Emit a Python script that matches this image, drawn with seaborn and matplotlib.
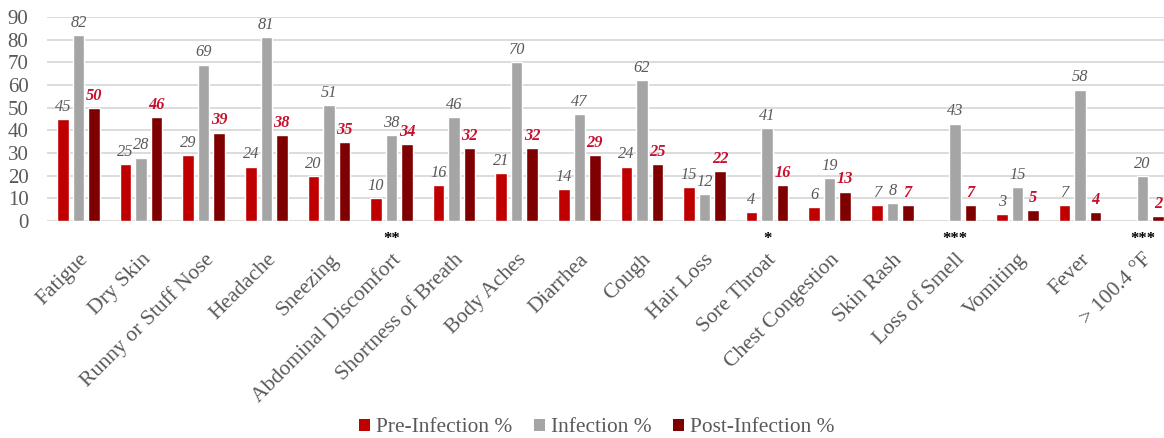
import numpy as np
import pandas as pd
import matplotlib
matplotlib.use("Agg")
import matplotlib.pyplot as plt
import seaborn as sns
from matplotlib.patches import Patch

categories = ["Fatigue", "Dry Skin", "Runny or Stuff Nose", "Headache", "Sneezing",
              "Abdominal Discomfort", "Shortness of Breath", "Body Aches", "Diarrhea",
              "Cough", "Hair Loss", "Sore Throat", "Chest Congestion", "Skin Rash",
              "Loss of Smell", "Vomiting", "Fever", "> 100.4 °F"]
pre_infection = [45, 25, 29, 24, 20, 10, 16, 21, 14, 24, 15, 4, 6, 7, np.nan, 3, 7, np.nan]
infection = [82, 28, 69, 81, 51, 38, 46, 70, 47, 62, 12, 41, 19, 8, 43, 15, 58, 20]
post_infection = [50, 46, 39, 38, 35, 34, 32, 32, 29, 25, 22, 16, 13, 7, 7, 5, 4, 2]
series_names = ["Pre-Infection %", "Infection %", "Post-Infection %"]
significance = {"Abdominal Discomfort": "**", "Sore Throat": "*",
                "Loss of Smell": "***", "> 100.4 °F": "***"}
y_ticks = [0, 10, 20, 30, 40, 50, 60, 70, 80, 90]

colors = ["#C00000", "#A5A5A5", "#7F0000"]
text_gray = "#595959"

rows = []
for name, vals in zip(series_names, [pre_infection, infection, post_infection]):
    for c, v in zip(categories, vals):
        rows.append({"Symptom": c, "Value": v, "Series": name})
df = pd.DataFrame(rows)

sns.set_theme(style="white")
plt.rcParams["font.family"] = ["Liberation Serif", "DejaVu Serif"]

fig = plt.figure(figsize=(11.64, 4.38), dpi=100)
ax = fig.add_axes([47.2 / 1164, 1 - 221 / 438, (1174 - 47.2) / 1164, 204 / 438])

sns.barplot(data=df, x="Symptom", y="Value", hue="Series", order=categories,
            hue_order=series_names, palette=colors, width=0.744, gap=0.26,
            saturation=1, errorbar=None, legend=False, ax=ax)

ax.set_ylim(0, 90)
ax.set_xlim(-0.5, len(categories) - 0.5)
ax.set_yticks(y_ticks)
ax.yaxis.grid(True, color="#D9D9D9", linewidth=1.3)
ax.set_axisbelow(True)
for s in ax.spines.values():
    s.set_visible(False)
ax.set_xlabel("")
ax.set_ylabel("")
ax.tick_params(axis="y", labelsize=15, colors=text_gray, length=0, pad=13.5)
ax.tick_params(axis="x", length=0, pad=21)
ax.set_xticks(range(len(categories)))
ax.set_xticklabels(categories, rotation=45, ha="right", rotation_mode="anchor",
                   fontsize=15.6, color=text_gray)

label_styles = [
    dict(color=text_gray, fontstyle="italic", fontweight="normal"),
    dict(color=text_gray, fontstyle="italic", fontweight="normal"),
    dict(color="#C8102E", fontstyle="italic", fontweight="bold"),
]
for cont, style in zip(ax.containers, label_styles):
    for p in cont.patches:
        h = p.get_height()
        if h is None or np.isnan(h):
            continue
        ax.annotate(f"{h:.0f}", xy=(p.get_x() + p.get_width() / 2, h),
                    xytext=(0, 3), textcoords="offset points", ha="center",
                    va="bottom", fontsize=11.8, **style)

for cat, star in significance.items():
    i = categories.index(cat)
    ax.annotate(star, xy=(i, 0), xycoords=("data", "data"), xytext=(0, -13),
                textcoords="offset points", ha="center", va="center",
                fontsize=12, fontweight="bold", color="black", annotation_clip=False)

handles = [Patch(facecolor=c, edgecolor="none") for c in colors]
fig.legend(handles, series_names, loc="center", bbox_to_anchor=(597 / 1164, 1 - 428 / 438),
           ncol=3, frameon=False, fontsize=15.4, handlelength=0.5, handleheight=0.5,
           handletextpad=0.3, columnspacing=1.0, labelcolor=text_gray)

fig.savefig("out.png", dpi=100)
